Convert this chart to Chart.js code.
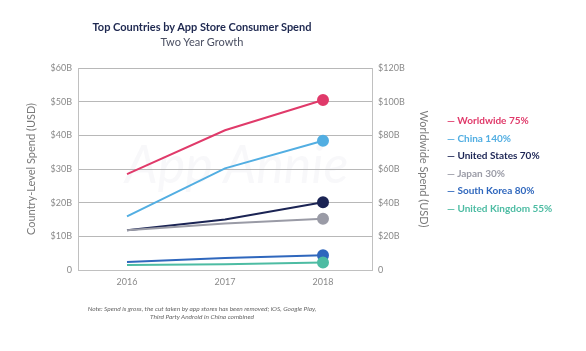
<!DOCTYPE html>
<html>
<head>
<meta charset="utf-8">
<script src="https://cdn.jsdelivr.net/npm/chart.js@4/dist/chart.umd.min.js"></script>
<style>
  body { margin: 0; background: #fff; font-family: "Open Sans", Lato, sans-serif; }
  #wrap { position: relative; width: 586px; height: 351px; }
  #chart { position: absolute; left: 0; top: 0; }
  .txt { position: absolute; white-space: nowrap; }
  #title { left: 0; width: 404px; top: 20px; text-align: center; font: bold 11px Lato, sans-serif; color: #1e2850; }
  #subtitle { left: 0; width: 404px; top: 35px; text-align: center; font: 11px Lato, sans-serif; color: #4a4f62; }
  #note { left: 0; width: 404px; top: 305px; text-align: center; font: italic 6.5px Lato, sans-serif; color: #666; line-height: 8px; }
  #legend { left: 447px; top: 114px; font: bold 10px Lato, sans-serif; }
  #legend div { height: 17.6px; }
  #watermark { left: 125px; top: 132px; font: italic 52px Lato, sans-serif; color: rgba(200,200,210,0.12); }
</style>
</head>
<body>
<div id="wrap">
  <div class="txt" id="watermark">App Annie</div>
  <canvas id="chart" width="586" height="351"></canvas>
  <div class="txt" id="title">Top Countries by App Store Consumer Spend</div>
  <div class="txt" id="subtitle">Two Year Growth</div>
  <div class="txt" id="legend"></div>
  <div class="txt" id="note">Note: Spend is gross, the cut taken by app stores has been removed; iOS, Google Play,<br>Third Party Android in China combined</div>
</div>
<script>
// Data ---------------------------------------------------------------------->
const years = ["2016", "2017", "2018"];

// worldwide is read on the right axis, the countries on the left axis ($B)
const worldwide = [57, 83, 101];
const china = [15.9, 30.2, 38.4];
const unitedStates = [11.8, 15.0, 20.1];
const japan = [11.8, 13.8, 15.2];
const southKorea = [2.4, 3.6, 4.4];
const unitedKingdom = [1.5, 1.7, 2.2];

const seriesNames = ["Worldwide", "China", "United States", "Japan", "South Korea", "United Kingdom"];
const growthLabels = ["75%", "140%", "70%", "30%", "80%", "55%"];
const seriesColors = ["#e03a6a", "#52aee2", "#1b2454", "#9a9ba6", "#2f67bd", "#4dbca3"];

const leftTicks = [0, 10, 20, 30, 40, 50, 60];
const rightTicks = [0, 20, 40, 60, 80, 100, 120];

// Chart ---------------------------------------------------------------------->
const seriesData = [worldwide, china, unitedStates, japan, southKorea, unitedKingdom];

const datasets = seriesNames.map((name, i) => ({
  label: name,
  data: seriesData[i],
  yAxisID: i === 0 ? 'y1' : 'y',
  borderColor: seriesColors[i],
  backgroundColor: seriesColors[i],
  borderWidth: 2,
  tension: 0,
  // only the last point gets a dot
  pointRadius: [0, 0, 5],
  pointHoverRadius: [0, 0, 5],
  order: 6 - i
}));

// legend built from the same arrays
const legend = document.getElementById('legend');
seriesNames.forEach((name, i) => {
  const row = document.createElement('div');
  row.style.color = seriesColors[i];
  row.textContent = '\u2014 ' + name + ' ' + growthLabels[i];
  legend.appendChild(row);
});

const tickFont = { family: 'Lato', size: 9 };
const tickColor = '#8a8a8a';

new Chart(document.getElementById('chart'), {
  type: 'line',
  data: { labels: years, datasets: datasets },
  options: {
    responsive: false,
    animation: false,
    layout: { padding: { top: 68, right: 154, bottom: 57, left: 0 } },
    plugins: { legend: { display: false }, tooltip: { enabled: false } },
    scales: {
      x: {
        offset: true,
        grid: { display: false, drawTicks: false },
        border: { color: '#c0c0c0', width: 1 },
        ticks: { color: tickColor, font: tickFont, padding: 7, maxRotation: 0 },
        afterFit: (s) => { s.height = 24; }
      },
      y: {
        position: 'left',
        min: 0, max: 60,
        afterBuildTicks: (s) => { s.ticks = leftTicks.map(v => ({ value: v })); },
        ticks: {
          color: tickColor, font: tickFont, padding: 6,
          callback: (v) => v === 0 ? '0' : '$' + v + 'B'
        },
        grid: { color: '#b8b8b8', lineWidth: 1, drawTicks: false },
        border: { color: '#c0c0c0', width: 1 },
        title: { display: true, text: 'Country-Level Spend (USD)', color: '#7a7a7a', font: { family: 'Lato', size: 11 }, padding: { top: 25, bottom: 0 } },
        afterFit: (s) => { s.width = 78; }
      },
      y1: {
        position: 'right',
        min: 0, max: 120,
        afterBuildTicks: (s) => { s.ticks = rightTicks.map(v => ({ value: v })); },
        ticks: {
          color: tickColor, font: tickFont, padding: 6,
          callback: (v) => v === 0 ? '0' : '$' + v + 'B'
        },
        grid: { display: false, drawTicks: false },
        border: { color: '#c0c0c0', width: 1 },
        title: { display: true, text: 'Worldwide Spend (USD)', color: '#7a7a7a', font: { family: 'Lato', size: 11 }, padding: { top: 2, bottom: 0 } },
        afterFit: (s) => { s.width = 60; }
      }
    }
  }
});
</script>
</body>
</html>
